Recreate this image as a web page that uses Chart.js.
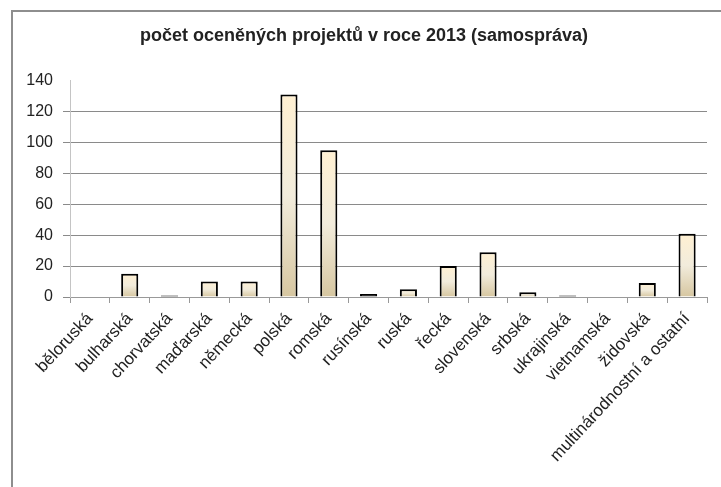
<!DOCTYPE html>
<html>
<head>
<meta charset="utf-8">
<script src="https://cdn.jsdelivr.net/npm/chart.js@4/dist/chart.umd.min.js"></script>
<style>
  html, body { margin: 0; padding: 0; background: #fff; }
  canvas { display: block; }
</style>
</head>
<body>
<canvas id="myChart" width="721" height="487"></canvas>
<script>
const title = 'počet oceněných projektů v roce 2013 (samospráva)';
const labels = [
    'běloruská', 'bulharská', 'chorvatská', 'maďarská', 'německá', 'polská',
    'romská', 'rusínská', 'ruská', 'řecká', 'slovenská', 'srbská',
    'ukrajinská', 'vietnamská', 'židovská', 'multinárodnostní a ostatní'
];
const values = [0, 15, 1, 10, 10, 131, 95, 2, 5, 20, 29, 3, 1, 0, 9, 41];
const yTicks = [0, 20, 40, 60, 80, 100, 120, 140];

const fontName = '"Liberation Sans Narrow", "Arial Narrow", "Liberation Sans", sans-serif';

// bar fill: tan at the bottom, cream at the top, per bar
function barFill(context) {
    const chart = context.chart;
    const y = chart.scales.y;
    if (!chart.chartArea || !y || context.dataIndex === undefined) return '#f3ecdc';
    const v = context.dataset.data[context.dataIndex];
    const y0 = y.getPixelForValue(0);
    const y1 = y.getPixelForValue(v);
    if (Math.abs(y0 - y1) < 4) return '#000';   // very low bars look like a black line
    const g = chart.ctx.createLinearGradient(0, y0, 0, y1);
    g.addColorStop(0, '#d6c6a0');
    g.addColorStop(0.5, '#f2ecdc');
    g.addColorStop(1, '#fff0d2');
    return g;
}

const framePlugin = {
    id: 'frame',
    beforeDraw(chart) {
        const { ctx } = chart;
        ctx.save();
        ctx.fillStyle = '#fff';
        ctx.fillRect(0, 0, chart.width, chart.height);
        ctx.strokeStyle = '#8e8e8e';
        ctx.lineWidth = 2;
        ctx.beginPath();
        ctx.moveTo(12, chart.height);
        ctx.lineTo(12, 11);
        ctx.lineTo(chart.width, 11);
        ctx.stroke();
        ctx.restore();
    }
};

const ctx = document.getElementById('myChart').getContext('2d');
const myChart = new Chart(ctx, {
    type: 'bar',
    data: {
        labels: labels,
        datasets: [{
            data: values,
            backgroundColor: barFill,
            borderColor: '#000',
            borderWidth: 2,
            borderSkipped: 'bottom',
            barPercentage: 0.43,
            categoryPercentage: 1
        }]
    },
    options: {
        responsive: false,
        animation: false,
        layout: { padding: { left: 21, right: 14, top: 0, bottom: 0 } },
        plugins: {
            legend: { display: false },
            tooltip: { enabled: false },
            title: {
                display: true,
                text: title,
                color: '#222',
                font: { family: fontName, size: 18, weight: 'bold' },
                padding: { top: 25, bottom: 34 }
            }
        },
        scales: {
            x: {
                afterFit(scale) { scale.height = 190; },
                grid: {
                    offset: true,
                    drawOnChartArea: false,
                    drawTicks: true,
                    tickLength: 6,
                    color: '#999'
                },
                border: { color: '#999', width: 1 },
                ticks: {
                    color: '#222',
                    font: { family: fontName, size: 17 },
                    maxRotation: 47,
                    minRotation: 47,
                    autoSkip: false,
                    padding: 6
                }
            },
            y: {
                min: 0,
                max: 140,
                afterFit(scale) { scale.width = 49; },
                afterBuildTicks(scale) {
                    scale.ticks = yTicks.map(v => ({ value: v }));
                },
                grid: {
                    color: c => (c.tick && c.tick.value === 140) ? 'rgba(0,0,0,0)' : '#8a8a8a',
                    tickLength: 7,
                    lineWidth: 1
                },
                border: { color: '#c4c4c4', width: 1 },
                ticks: {
                    color: '#222',
                    font: { family: fontName, size: 16 },
                    padding: 10
                }
            }
        }
    },
    plugins: [framePlugin]
});
</script>
</body>
</html>
